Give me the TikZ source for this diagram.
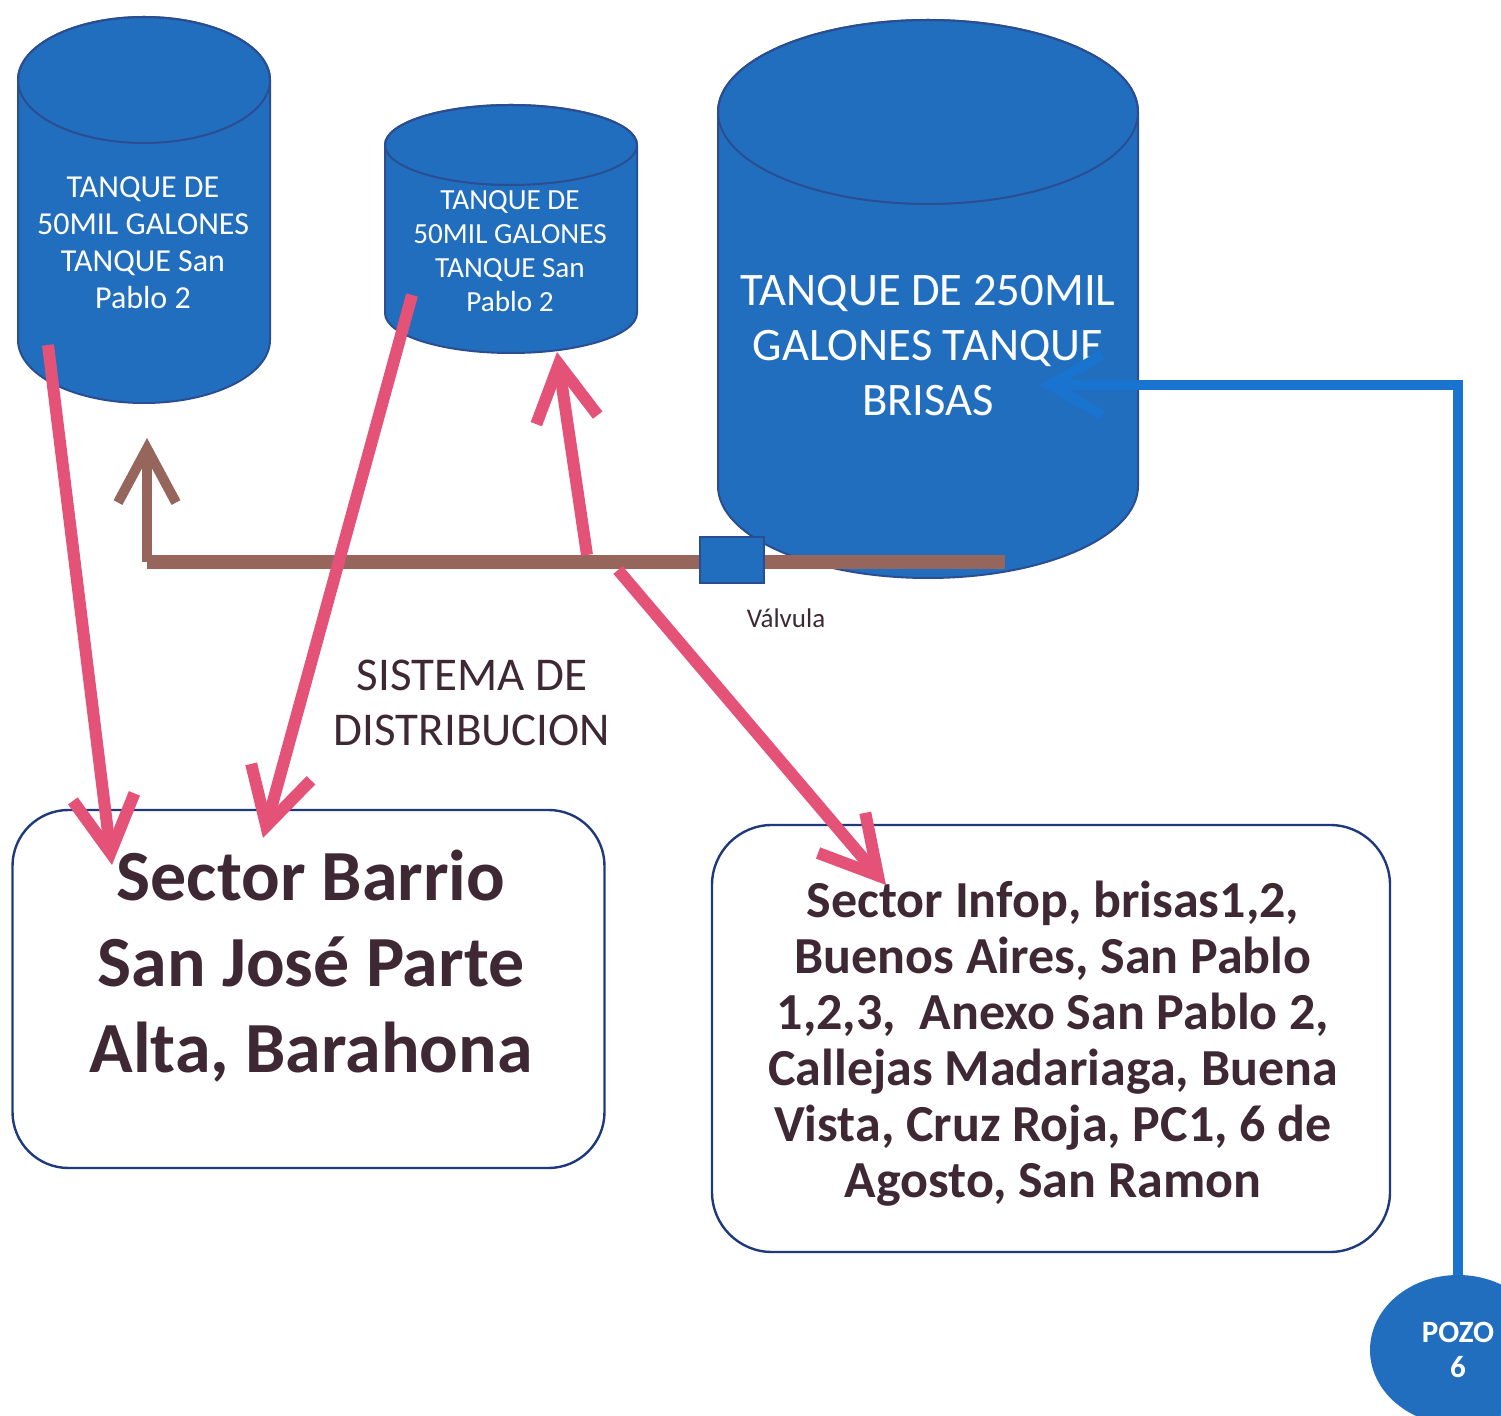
\documentclass[tikz,border=0pt]{standalone}
\usepackage{fontspec}
\setmainfont{Carlito}
\usetikzlibrary{arrows.meta, shapes.geometric}

\definecolor{azul}{RGB}{33,110,190}
\definecolor{azulborde}{RGB}{42,78,145}
\definecolor{rosa}{RGB}{228,82,120}
\definecolor{cafe}{RGB}{150,102,92}
\definecolor{texto}{RGB}{62,40,52}
\definecolor{linea}{RGB}{24,116,206}
\definecolor{marco}{RGB}{30,58,125}

\newcommand{\tanque}[5]{%
\filldraw[fill=azul, draw=azulborde, line width=1pt] (#1-#3,#2) -- (#1-#3,#5) arc (180:360:#3 and #4) -- (#1+#3,#2) arc (0:180:#3 and #4) -- cycle;
\draw[azulborde, line width=1pt] (#1,#2) ellipse (#3 and #4);
}

\tikzset{
  tanktxt/.style={text=white, align=center},
  caja/.style={draw=marco, line width=1.2pt, rounded corners=28pt},
  cajatxt/.style={text=texto, align=center, font=\bfseries},
  rojo/.style={draw=rosa, line width=6pt, -{Straight Barb[length=28pt, width=31pt]}},
  tubo/.style={draw=cafe, line width=7pt},
  valvula/.style={draw=azulborde, fill=azul, line width=1pt, minimum width=32pt, minimum height=23pt, inner sep=0pt},
  pozo/.style={ellipse, draw=none, fill=azul, minimum width=88pt, minimum height=75pt, text=white, align=center}
}

\begin{document}
\begin{tikzpicture}[x=0.5pt, y=0.5pt]
\useasboundingbox (0,0) rectangle (1501,-1416);

\tanque{144}{-80}{126}{63}{-340}
\tanque{511}{-145}{126}{40}{-313}
\tanque{928}{-112}{210}{92}{-486}

\node[tanktxt, font=\fontsize{16}{18.5}\selectfont] (tA) at (143,-243) {TANQUE DE\\50MIL GALONES\\TANQUE San\\Pablo 2};
\node[tanktxt, font=\fontsize{14.6}{17}\selectfont] (tB) at (510,-251) {TANQUE DE\\50MIL GALONES\\TANQUE San\\Pablo 2};
\node[tanktxt, font=\fontsize{23.3}{27.5}\selectfont] (tBrisas) at (928,-346) {TANQUE DE 250MIL\\GALONES TANQUE\\BRISAS};

\coordinate (ramal) at (147,-562);
\coordinate (finTubo) at (1005,-562);
\coordinate (subeA) at (147,-438);
\draw[tubo] (ramal) -- (finTubo);
\draw[cafe, line width=5pt, -{Straight Barb[length=27pt, width=29pt]}] (ramal) -- (subeA);
\node[valvula] (valv) at (732,-560) {};
\node[text=texto, font=\fontsize{13.5}{15}\selectfont] (lvalv) at (786,-618) {Válvula};

\node[caja, minimum width=296pt, minimum height=179pt] (sjose) at (308.5,-989) {};
\node[cajatxt, font=\fontsize{36}{43}\bfseries\selectfont] (sjoseTxt) at (311,-966) {Sector Barrio\\San José Parte\\Alta, Barahona};
\node[caja, rounded corners=30pt, minimum width=339pt, minimum height=213.5pt] (infop) at (1051,-1038.5) {};
\node[cajatxt, font=\fontsize{26}{28}\bfseries\selectfont] (infopTxt) at (1053,-1044) {Sector Infop, brisas1,2,\\Buenos Aires, San Pablo\\1,2,3,\ \ Anexo San Pablo 2,\\Callejas Madariaga, Buena\\Vista, Cruz Roja, PC1, 6 de\\Agosto, San Ramon};

\node[text=texto, align=center, font=\fontsize{23.5}{27.5}\selectfont] (sistema) at (472,-703) {SISTEMA DE\\DISTRIBUCION};

\coordinate (sA) at (48,-345);
\coordinate (lA) at (112,-865);
\coordinate (sB) at (412,-295);
\coordinate (lB) at (263,-838);
\coordinate (sC) at (587,-555);
\coordinate (lC) at (557,-352);
\coordinate (sD) at (618,-570);
\coordinate (lD) at (886,-885);
\draw[rojo] (sA) -- (lA);
\draw[rojo] (sB) -- (lB);
\draw[rojo] (sC) -- (lC);
\draw[rojo] (sD) -- (lD);

\node[pozo, font=\fontsize{15.5}{17.5}\bfseries\selectfont] (pozo6) at (1458,-1350) {POZO\\6};
\coordinate (llegada) at (1040,-385);
\draw[linea, line width=5pt, -{Straight Barb[length=26pt, width=30pt]}] (pozo6.north) |- (llegada);
\end{tikzpicture}
\end{document}
